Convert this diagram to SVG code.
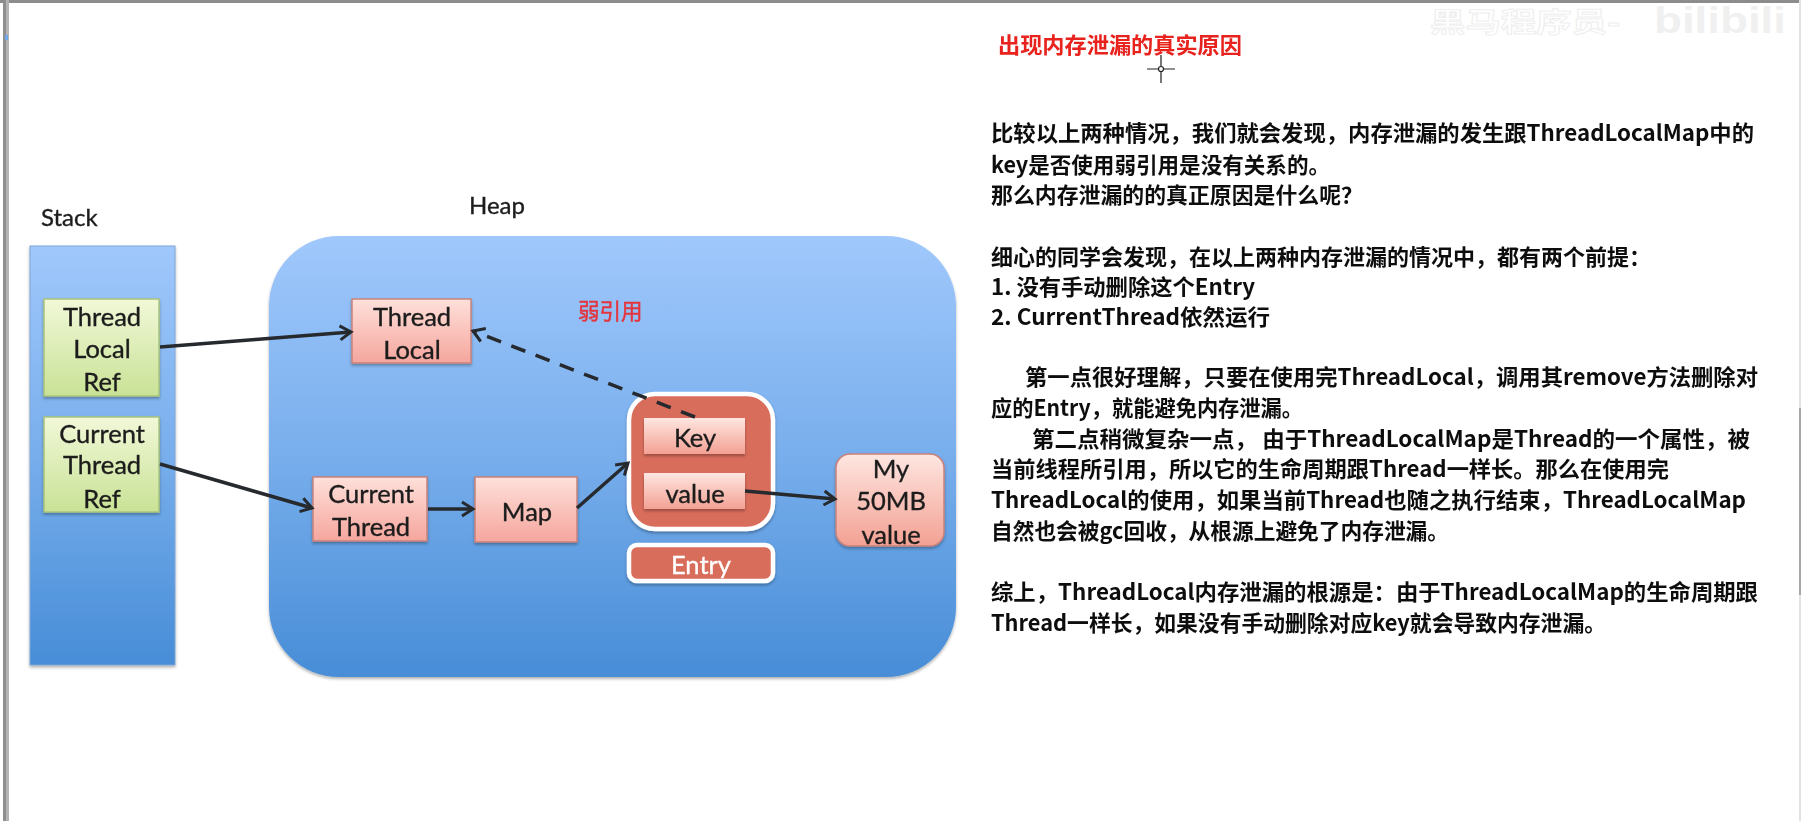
<svg xmlns="http://www.w3.org/2000/svg" width="1801" height="821" viewBox="0 0 1801 821">
<defs>
<linearGradient id="blue" x1="0" y1="0" x2="0" y2="1"><stop offset="0" stop-color="#a0c8fc"/><stop offset="0.5" stop-color="#78aeec"/><stop offset="1" stop-color="#478dd7"/></linearGradient>
<linearGradient id="green" x1="0" y1="0" x2="0" y2="1"><stop offset="0" stop-color="#f1f8d8"/><stop offset="1" stop-color="#c9e296"/></linearGradient>
<linearGradient id="pink" x1="0" y1="0" x2="0" y2="1"><stop offset="0" stop-color="#fee0da"/><stop offset="1" stop-color="#f5a69d"/></linearGradient>
<linearGradient id="pink2" x1="0" y1="0" x2="0" y2="1"><stop offset="0" stop-color="#fee6e1"/><stop offset="1" stop-color="#f3a193"/></linearGradient>
<filter id="sh" x="-10%" y="-10%" width="120%" height="125%"><feDropShadow dx="0" dy="2" stdDeviation="1.5" flood-color="#000" flood-opacity="0.3"/></filter>
<filter id="soft" x="-2%" y="-2%" width="104%" height="104%"><feGaussianBlur stdDeviation="0.45"/></filter>
<marker id="open" markerUnits="userSpaceOnUse" markerWidth="18" markerHeight="20" refX="14" refY="10" orient="auto"><path d="M3 3 L14 10 L3 17" fill="none" stroke="#262a2e" stroke-width="3"/></marker>
</defs>
<style>
.lbl{font-family:"Lato","Liberation Sans",sans-serif;font-size:25.5px;fill:#1c1c1c;stroke:#1c1c1c;stroke-width:0.35;text-anchor:middle}
.body{font-family:"Noto Sans CJK SC","Noto Sans",sans-serif;font-weight:700;font-size:22px;fill:#111}
.cap{font-family:"Lato","Liberation Sans",sans-serif;font-size:24px;fill:#1c1c1c;stroke:#1c1c1c;stroke-width:0.35}
.g{fill:url(#green);stroke:#a8c47c;stroke-width:1.5;filter:url(#sh)}
.p{fill:url(#pink);stroke:#c9827c;stroke-width:1.5;filter:url(#sh)}
.k{fill:url(#pink2);filter:url(#sh)}
.e{fill:#d96d5b;stroke:#fff;stroke-width:4.5;filter:url(#sh)}
.c{fill:none;stroke:#262a2e;stroke-width:3.5;marker-end:url(#open)}
</style>
<rect width="1801" height="821" fill="#fff"/>
<g id="chrome">
<rect x="0" y="0" width="1801" height="3" fill="#8c8c8c"/>
<rect x="3" y="0" width="3" height="821" fill="#8f8f8f"/>
<rect x="6" y="0" width="3" height="821" fill="#b4b4b4"/>
<rect x="5" y="35" width="3" height="5" fill="#6fa8e8"/>
<rect x="1799" y="0" width="2" height="821" fill="#e2e2e2"/>
<rect x="1799" y="408" width="2" height="187" fill="#a6a6a6"/>
</g>
<g id="watermark">
<text x="1430" y="32" font-family="Noto Sans CJK SC,sans-serif" font-weight="700" font-size="27" fill="#fff" stroke="#efefef" stroke-width="1" textLength="190" lengthAdjust="spacingAndGlyphs">黑马程序员-</text>
<text x="1654" y="33" font-family="Liberation Sans,sans-serif" font-weight="700" font-size="36" fill="#f0f0f0" textLength="132" lengthAdjust="spacingAndGlyphs">bilibili</text>
</g>
<g filter="url(#soft)">
<g id="stack"><text class="cap" x="41" y="226">Stack</text><rect x="30" y="246" width="145" height="419" fill="url(#blue)" stroke="#7fa6d4" stroke-width="1" filter="url(#sh)"/></g>
<g id="heap"><text class="cap" x="469" y="214">Heap</text><rect x="269" y="236" width="687" height="441" rx="70" fill="url(#blue)" filter="url(#sh)"/></g>
<g id="thread-local-ref"><rect class="g" x="44" y="299" width="115" height="97"/><text class="lbl" x="102" y="326">Thread</text><text class="lbl" x="102" y="358">Local</text><text class="lbl" x="102" y="391">Ref</text></g>
<g id="current-thread-ref"><rect class="g" x="44" y="417" width="115" height="95"/><text class="lbl" x="102" y="443">Current</text><text class="lbl" x="102" y="474">Thread</text><text class="lbl" x="102" y="508">Ref</text></g>
<g id="thread-local"><rect class="p" x="352" y="299" width="119" height="64"/><text class="lbl" x="412" y="326">Thread</text><text class="lbl" x="412" y="359">Local</text></g>
<g id="current-thread"><rect class="p" x="313" y="477" width="114" height="64"/><text class="lbl" x="371" y="503">Current</text><text class="lbl" x="371" y="536">Thread</text></g>
<g id="map"><rect class="p" x="475" y="477" width="102" height="65"/><text class="lbl" x="527" y="521">Map</text></g>
<g id="entry-box"><rect class="e" x="629" y="394" width="144" height="135" rx="26"/></g>
<g id="key"><rect class="k" x="644" y="418" width="101" height="36"/><text class="lbl" x="695" y="447">Key</text></g>
<g id="value"><rect class="k" x="644" y="473" width="101" height="36"/><text class="lbl" x="695" y="503">value</text></g>
<g id="my-50mb-value"><rect x="836" y="454" width="108" height="92" rx="14" fill="url(#pink2)" stroke="#c9827c" stroke-width="1.5" filter="url(#sh)"/><text class="lbl" x="891" y="478">My</text><text class="lbl" x="891" y="510">50MB</text><text class="lbl" x="891" y="544">value</text></g>
<g id="entry-label"><rect class="e" x="629" y="545" width="144" height="36" rx="8"/><text class="lbl" x="701" y="574" style="fill:#fff;stroke:#fff">Entry</text></g>
<g id="weak-label"><text x="578" y="319" font-family="Noto Sans CJK SC,sans-serif" font-size="21.5" fill="#e3353d" stroke="#e3353d" stroke-width="0.5">弱引用</text></g>
<g id="connectors">
<path class="c" d="M160 347 L351 332"/>
<path class="c" d="M160 464 L312 508"/>
<path class="c" d="M428 509 L473 509"/>
<path class="c" d="M577 508 L628 463"/>
<path class="c" d="M745 491 L835 499"/>
<path class="c" d="M695 417 L473 331" stroke-dasharray="15 11"/>
</g>
<g id="notes">
<text x="998" y="53" font-family="Noto Sans CJK SC,sans-serif" font-weight="700" font-size="22" fill="#e8201c" textLength="244" lengthAdjust="spacingAndGlyphs">出现内存泄漏的真实原因</text>
<text class="body" x="991" y="141" textLength="763" lengthAdjust="spacingAndGlyphs">比较以上两种情况，我们就会发现，内存泄漏的发生跟ThreadLocalMap中的</text>
<text class="body" x="991" y="173" textLength="339" lengthAdjust="spacingAndGlyphs">key是否使用弱引用是没有关系的。</text>
<text class="body" x="991" y="203" textLength="372" lengthAdjust="spacingAndGlyphs">那么内存泄漏的的真正原因是什么呢？</text>
<text class="body" x="991" y="265" textLength="660" lengthAdjust="spacingAndGlyphs">细心的同学会发现，在以上两种内存泄漏的情况中，都有两个前提：</text>
<text class="body" x="991" y="295" textLength="264" lengthAdjust="spacingAndGlyphs">1. 没有手动删除这个Entry</text>
<text class="body" x="991" y="325" textLength="279" lengthAdjust="spacingAndGlyphs">2. CurrentThread依然运行</text>
<text class="body" x="1025" y="385" textLength="733" lengthAdjust="spacingAndGlyphs">第一点很好理解，只要在使用完ThreadLocal，调用其remove方法删除对</text>
<text class="body" x="991" y="416" textLength="312" lengthAdjust="spacingAndGlyphs">应的Entry，就能避免内存泄漏。</text>
<text class="body" x="1032" y="447" textLength="718" lengthAdjust="spacingAndGlyphs">第二点稍微复杂一点， 由于ThreadLocalMap是Thread的一个属性，被</text>
<text class="body" x="991" y="477" textLength="678" lengthAdjust="spacingAndGlyphs">当前线程所引用，所以它的生命周期跟Thread一样长。那么在使用完</text>
<text class="body" x="991" y="508" textLength="755" lengthAdjust="spacingAndGlyphs">ThreadLocal的使用，如果当前Thread也随之执行结束，ThreadLocalMap</text>
<text class="body" x="991" y="539" textLength="458" lengthAdjust="spacingAndGlyphs">自然也会被gc回收，从根源上避免了内存泄漏。</text>
<text class="body" x="991" y="600" textLength="767" lengthAdjust="spacingAndGlyphs">综上，ThreadLocal内存泄漏的根源是：由于ThreadLocalMap的生命周期跟</text>
<text class="body" x="991" y="631" textLength="615" lengthAdjust="spacingAndGlyphs">Thread一样长，如果没有手动删除对应key就会导致内存泄漏。</text>
</g>
<g id="cursor" fill="none" stroke="#222" stroke-width="1.2"><path d="M1161 55 V66 M1161 72 V83 M1147 69 H1158 M1164 69 H1175"/><circle cx="1161" cy="69" r="2.5"/></g>
</g>
</svg>
